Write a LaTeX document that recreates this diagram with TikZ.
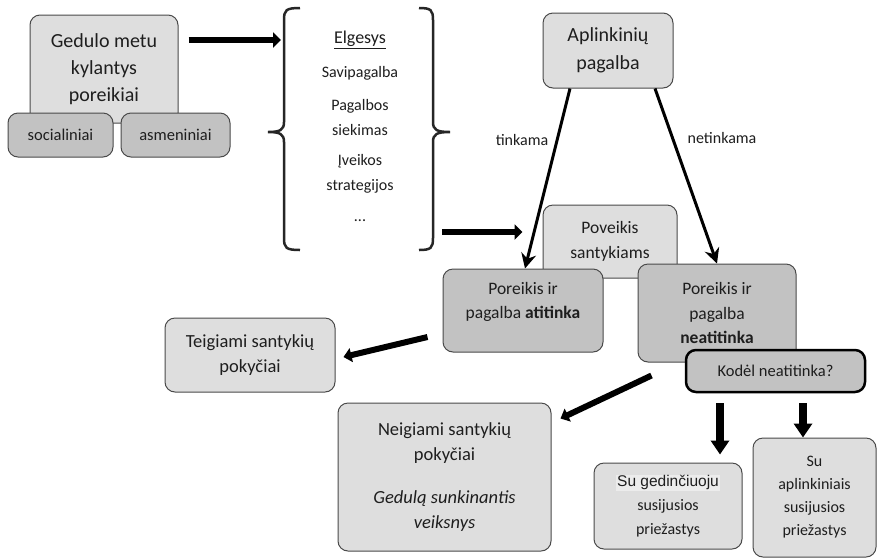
\documentclass[tikz,border=0pt]{standalone}
\usepackage{fontspec}
\setmainfont{Carlito}
\newfontfamily\arialf{Liberation Sans}
\usetikzlibrary{arrows.meta}
\definecolor{lightbox}{HTML}{DEDEDE}
\definecolor{midbox}{HTML}{C2C2C2}
\definecolor{edgec}{HTML}{4A4A4A}
\definecolor{ink}{HTML}{1E1E1E}
\definecolor{hilite}{HTML}{ECECEC}
\begin{document}
\begin{tikzpicture}[x=1pt,y=-1pt,
  box/.style={draw=edgec, line width=1pt, rounded corners=10pt, align=center, text=ink, inner sep=2pt},
  light/.style={box, fill=lightbox},
  mid/.style={box, fill=midbox},
  fsA/.style={font=\fontsize{20}{27}\selectfont},
  fsB/.style={font=\fontsize{18.5}{25}\selectfont},
  fsC/.style={font=\fontsize{17.5}{24.5}\selectfont},
  fsD/.style={font=\fontsize{16.5}{25}\selectfont},
  fatarrow/.style={draw=black, line width=6.5pt, -{Triangle[length=8pt,width=15pt]}},
  diagarrow/.style={draw=black, line width=6pt, -{Triangle[length=8pt,width=14pt]}},
  downarrow/.style={draw=black, line width=8pt, -{Triangle[length=14pt,width=18pt]}},
  thinarrow/.style={draw=black, line width=3pt, -{Stealth[length=15pt,width=15pt,inset=5pt]}},
  bracketline/.style={draw=black!85, line width=2.5pt},
  lbl/.style={text=ink, font=\fontsize{16}{25}\selectfont, inner sep=0pt, align=center}
]
\useasboundingbox (0,0) rectangle (878,558);
\fill[white] (0,0) rectangle (878,558);

% left group
\node[light, fsA, minimum width=148pt, minimum height=108pt] (ged) at (104,69) {Gedulo metu\\kylantys\\poreikiai};
\node[mid, fsD, minimum width=105pt, minimum height=44pt] (soc) at (60.5,135) {socialiniai};
\node[mid, fsD, minimum width=109pt, minimum height=44pt] (asm) at (175.5,135) {asmeniniai};

% brackets
\draw[bracketline] (300,8) .. controls (286,8) and (284,10) .. (284,20) -- (284,122)
  .. controls (284,130) and (280,132) .. (268,132) .. controls (280,132) and (284,134) .. (284,142)
  -- (284,238) .. controls (284,248) and (286,250) .. (300,250);
\draw[bracketline] (419,8) .. controls (431,8) and (433,10) .. (433,20) -- (433,122)
  .. controls (433,130) and (437,132) .. (450,132) .. controls (437,132) and (433,134) .. (433,142)
  -- (433,238) .. controls (433,248) and (431,250) .. (419,250);
\coordinate (brl) at (281,40);
\coordinate (brr) at (442,232);

\node[lbl, font=\fontsize{18}{22}\selectfont] (elg) at (360,40) {\underline{Elgesys}};
\node[lbl] (sav) at (360,73) {Savipagalba};
\node[lbl] (pag) at (360,117) {Pagalbos\\siekimas};
\node[lbl] (ive) at (360,174) {Įveikos\\strategijos};
\node[lbl] (dots) at (360,221) {...};

% right group
\node[light, font=\fontsize{20}{28}\selectfont, minimum width=130pt, minimum height=75pt] (apl) at (608,50.5) {Aplinkinių\\pagalba};
\node[light, fsC, minimum width=134pt, minimum height=73pt] (pov) at (610,241.5) {Poveikis\\santykiams};
\node[mid, fsC, minimum width=160pt, minimum height=83pt] (ati) at (523,310.5) {Poreikis ir\\pagalba \textbf{atitinka}\\[-4pt]};
\node[mid, fsC, minimum width=158pt, minimum height=98pt] (nea) at (717,313) {Poreikis ir\\pagalba\\\textbf{neatitinka}};
\node[mid, fsD, draw=black, line width=2.5pt, minimum width=179pt, minimum height=42pt] (kod) at (775.5,371) {Kodėl neatitinka?};

\node[light, fsB, minimum width=170pt, minimum height=74pt] (tei) at (250,355) {Teigiami santykių\\pokyčiai};
\node[light, fsB, minimum width=213pt, minimum height=148pt] (neg) at (444.5,477) {Neigiami santykių\\pokyčiai\\[18pt]\textit{Gedulą sunkinantis}\\\textit{veiksnys}};
\node[light, font=\fontsize{16}{24}\selectfont, minimum width=148pt, minimum height=86pt] (sug) at (668,506) {{\setlength{\fboxsep}{1pt}\colorbox{hilite}{\arialf\fontsize{15.5}{18}\selectfont Su gedinčiuoju}}\\susijusios\\priežastys};
\node[light, font=\fontsize{16}{23}\selectfont, minimum width=123pt, minimum height=119pt] (sua) at (814.5,497.5) {Su\\aplinkiniais\\susijusios\\priežastys};

% labels
\node[lbl] (tin) at (522,140) {tinkama};
\node[lbl] (net) at (722,138) {netinkama};

% connectors
\draw[fatarrow, shorten <=10pt] (ged.east |- brl) -- (brl);
\draw[fatarrow, shorten >=20pt] (brr) -- (pov.west |- brr);
\draw[thinarrow] ([xshift=-38pt]apl.south) -- ([xshift=2pt]ati.north);
\draw[thinarrow] ([xshift=47pt]apl.south) -- (nea.north);
\draw[diagarrow] ([shift={(-15,26.5)}]ati.west) -- ([shift={(8,2)}]tei.east);
\draw[diagarrow] ([shift={(14,13)}]nea.south west) -- ([shift={(9,16)}]neg.north east);
\coordinate (d1) at (720,403);
\coordinate (d2) at (803,403);
\draw[downarrow, shorten >=8pt] (d1) -- (d1 |- sug.north);
\draw[downarrow] (d2) -- (d2 |- sua.north);
\end{tikzpicture}
\end{document}
